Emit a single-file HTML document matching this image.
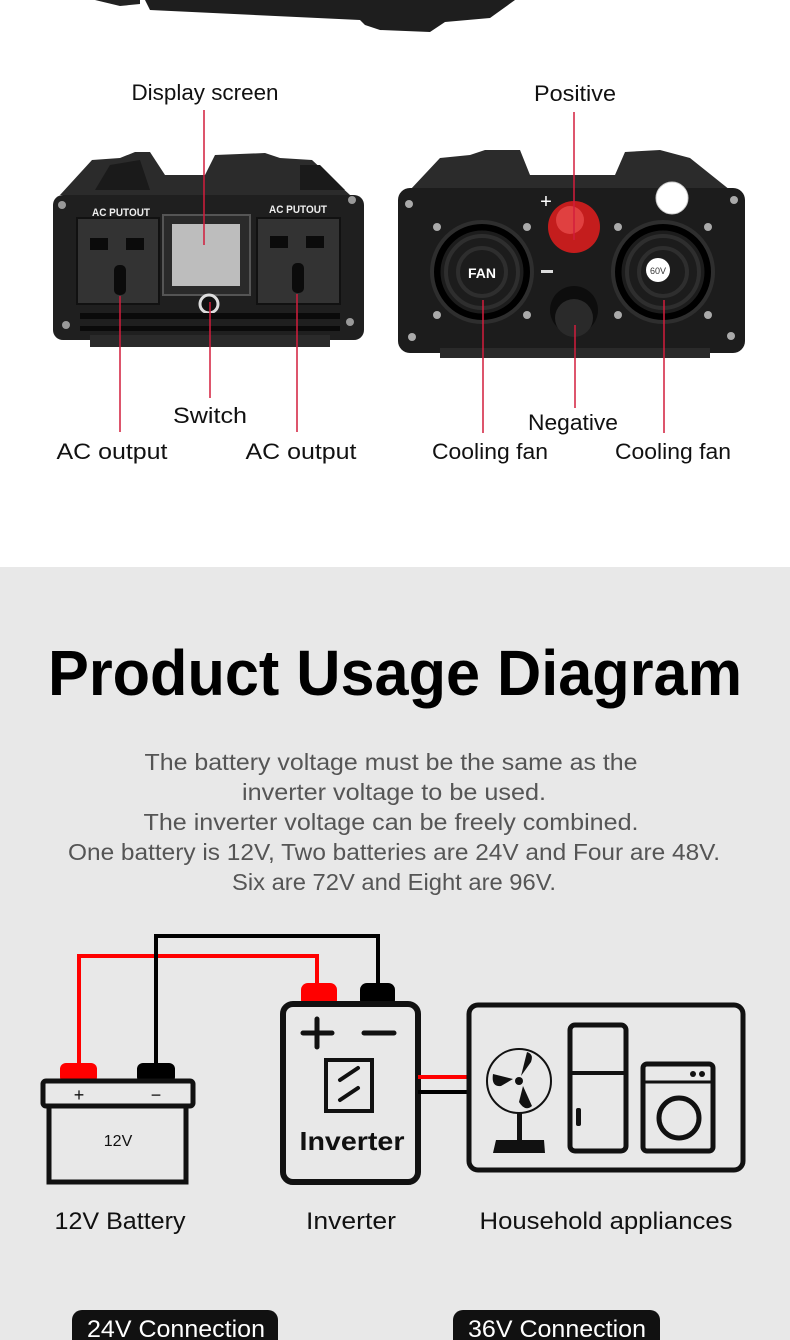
<!DOCTYPE html>
<html><head><meta charset="utf-8"><style>
html,body{margin:0;padding:0;background:#fff}
svg{display:block}
text{font-family:"Liberation Sans",sans-serif}
</style></head><body>
<svg width="790" height="1340" viewBox="0 0 790 1340" xmlns="http://www.w3.org/2000/svg">
<rect x="0" y="0" width="790" height="567" fill="#fff"/>
<rect x="0" y="567" width="790" height="773" fill="#e8e8e8"/>

<!-- top remnant of previous device -->
<path d="M95 0 L140 0 L140 4 L120 6 Z" fill="#222"/>
<path d="M145 0 L515 0 L490 18 L445 22 L430 32 L380 30 L365 25 L360 20 L150 10 Z" fill="#1e1e1e"/>

<!-- FRONT DEVICE -->
<g>
<path d="M92 160 L120 158 L135 152 L150 152 L165 175 L205 175 L215 155 L265 153 L280 158 L312 160 L350 195 L60 195 Z" fill="#2b2b2b"/>
<path d="M110 165 L140 160 L150 190 L95 190 Z" fill="#1a1a1a"/>
<path d="M300 165 L320 165 L345 190 L300 190 Z" fill="#1a1a1a"/>
<rect x="53" y="195" width="311" height="145" rx="10" fill="#1f1f1f"/>
<rect x="90" y="335" width="240" height="12" fill="#2a2a2a"/>
<text x="92" y="216" font-size="11" font-weight="bold" fill="#eee" textLength="58" lengthAdjust="spacingAndGlyphs">AC PUTOUT</text>
<text x="269" y="213" font-size="11" font-weight="bold" fill="#eee" textLength="58" lengthAdjust="spacingAndGlyphs">AC PUTOUT</text>
<rect x="77" y="218" width="82" height="86" fill="#333" stroke="#111" stroke-width="2"/>
<rect x="257" y="218" width="83" height="86" fill="#333" stroke="#111" stroke-width="2"/>
<rect x="90" y="238" width="18" height="12" fill="#0b0b0b"/><rect x="126" y="238" width="18" height="12" fill="#0b0b0b"/>
<rect x="270" y="236" width="18" height="12" fill="#0b0b0b"/><rect x="306" y="236" width="18" height="12" fill="#0b0b0b"/>
<rect x="114" y="265" width="12" height="30" rx="5" fill="#0b0b0b"/><rect x="292" y="263" width="12" height="30" rx="5" fill="#0b0b0b"/>
<rect x="163" y="215" width="87" height="80" fill="#2a2a2a" stroke="#555" stroke-width="2"/>
<rect x="172" y="224" width="68" height="62" fill="#bdbdbd"/>
<circle cx="209" cy="304" r="9" fill="#111" stroke="#ddd" stroke-width="3"/>
<circle cx="62" cy="205" r="4" fill="#999"/><circle cx="352" cy="200" r="4" fill="#999"/>
<circle cx="66" cy="325" r="4" fill="#999"/><circle cx="350" cy="322" r="4" fill="#999"/>
<rect x="80" y="313" width="260" height="6" fill="#0a0a0a"/>
<rect x="80" y="326" width="260" height="5" fill="#0a0a0a"/>
</g>

<!-- REAR DEVICE -->
<g>
<path d="M440 158 L470 155 L485 150 L520 150 L530 175 L615 175 L625 152 L660 150 L690 158 L730 190 L410 190 Z" fill="#2b2b2b"/>
<rect x="398" y="188" width="347" height="165" rx="12" fill="#1c1c1c"/>
<rect x="440" y="348" width="270" height="10" fill="#2a2a2a"/>
<g fill="none" stroke="#000" stroke-width="9">
<circle cx="482" cy="272" r="46"/><circle cx="663" cy="272" r="46"/>
</g>
<g fill="none" stroke="#2e2e2e" stroke-width="4">
<circle cx="482" cy="272" r="50"/><circle cx="482" cy="272" r="36"/><circle cx="482" cy="272" r="24"/>
<circle cx="663" cy="272" r="50"/><circle cx="663" cy="272" r="36"/><circle cx="663" cy="272" r="24"/>
</g>
<circle cx="482" cy="272" r="18" fill="#1c1c1c"/>
<text x="482" y="278" font-size="14" font-weight="bold" fill="#fff" text-anchor="middle">FAN</text>
<circle cx="658" cy="270" r="12" fill="#fff"/>
<text x="658" y="274" font-size="9" fill="#333" text-anchor="middle">60V</text>
<circle cx="672" cy="198" r="16" fill="#fff" stroke="#ccc"/>
<text x="546" y="208" font-size="20" fill="#fff" text-anchor="middle">+</text>
<rect x="541" y="270" width="12" height="3" fill="#ddd"/>
<circle cx="574" cy="227" r="26" fill="#c41d1d"/><circle cx="570" cy="220" r="14" fill="#e04040"/>
<circle cx="574" cy="310" r="24" fill="#0d0d0d"/><circle cx="574" cy="318" r="19" fill="#2a2a2a"/>
<g fill="#aaa"><circle cx="437" cy="227" r="4"/><circle cx="527" cy="227" r="4"/><circle cx="437" cy="315" r="4"/><circle cx="527" cy="315" r="4"/>
<circle cx="618" cy="227" r="4"/><circle cx="708" cy="227" r="4"/><circle cx="618" cy="315" r="4"/><circle cx="708" cy="315" r="4"/>
<circle cx="409" cy="204" r="4"/><circle cx="734" cy="200" r="4"/><circle cx="412" cy="337" r="4"/><circle cx="731" cy="336" r="4"/></g>
</g>

<!-- leader lines -->
<g stroke="#d21d3c" stroke-width="1.5">
<line x1="204" y1="110" x2="204" y2="245"/>
<line x1="574" y1="112" x2="574" y2="240"/>
<line x1="210" y1="302" x2="210" y2="398"/>
<line x1="120" y1="296" x2="120" y2="432"/>
<line x1="297" y1="294" x2="297" y2="432"/>
<line x1="575" y1="325" x2="575" y2="408"/>
<line x1="483" y1="300" x2="483" y2="433"/>
<line x1="664" y1="300" x2="664" y2="433"/>
</g>
<g font-size="22" fill="#111" text-anchor="middle">
<text x="205" y="100" textLength="147" lengthAdjust="spacingAndGlyphs">Display screen</text>
<text x="575" y="101" textLength="82" lengthAdjust="spacingAndGlyphs">Positive</text>
<text x="210" y="423" textLength="74" lengthAdjust="spacingAndGlyphs">Switch</text>
<text x="112" y="459" textLength="111" lengthAdjust="spacingAndGlyphs">AC output</text>
<text x="301" y="459" textLength="111" lengthAdjust="spacingAndGlyphs">AC output</text>
<text x="573" y="430" textLength="90" lengthAdjust="spacingAndGlyphs">Negative</text>
<text x="490" y="459" textLength="116" lengthAdjust="spacingAndGlyphs">Cooling fan</text>
<text x="673" y="459" textLength="116" lengthAdjust="spacingAndGlyphs">Cooling fan</text>
</g>

<!-- Title -->
<text x="395" y="695" font-size="64" font-weight="bold" fill="#000" text-anchor="middle" textLength="694" lengthAdjust="spacingAndGlyphs">Product Usage Diagram</text>
<g font-size="23" fill="#555" text-anchor="middle">
<text x="391" y="770" textLength="493" lengthAdjust="spacingAndGlyphs">The battery voltage must be the same as the</text>
<text x="394" y="800" textLength="304" lengthAdjust="spacingAndGlyphs">inverter voltage to be used.</text>
<text x="391" y="830" textLength="495" lengthAdjust="spacingAndGlyphs">The inverter voltage can be freely combined.</text>
<text x="394" y="860" textLength="652" lengthAdjust="spacingAndGlyphs">One battery is 12V, Two batteries are 24V and Four are 48V.</text>
<text x="394" y="890" textLength="324" lengthAdjust="spacingAndGlyphs">Six are 72V and Eight are 96V.</text>
</g>

<!-- wires -->
<polyline points="79,1065 79,956 317,956 317,986" fill="none" stroke="#f00" stroke-width="4"/>
<polyline points="156,1065 156,936 378,936 378,986" fill="none" stroke="#000" stroke-width="4"/>

<!-- battery -->
<rect x="60" y="1063" width="37" height="20" rx="6" fill="#f00"/>
<rect x="137" y="1063" width="38" height="20" rx="6" fill="#000"/>
<rect x="43" y="1081" width="150" height="25" rx="3" fill="#e8e8e8" stroke="#111" stroke-width="5"/>
<rect x="49" y="1106" width="137" height="76" fill="#e8e8e8" stroke="#111" stroke-width="5"/>
<text x="79" y="1101" font-size="18" fill="#111" text-anchor="middle">+</text>
<text x="156" y="1101" font-size="18" fill="#111" text-anchor="middle">−</text>
<text x="118" y="1146" font-size="16" fill="#111" text-anchor="middle">12V</text>

<!-- inverter -->
<rect x="301" y="983" width="36" height="24" rx="7" fill="#f00"/>
<rect x="360" y="983" width="35" height="24" rx="7" fill="#000"/>
<rect x="283" y="1004" width="135" height="178" rx="10" fill="#e8e8e8" stroke="#111" stroke-width="6"/>
<path d="M303 1033 H332 M317 1019 V1047 M364 1033 H394" stroke="#111" stroke-width="5" stroke-linecap="round"/>
<rect x="326" y="1060" width="46" height="51" fill="#e8e8e8" stroke="#111" stroke-width="4"/>
<path d="M340 1080 L358 1068 M340 1100 L358 1088" stroke="#111" stroke-width="4" stroke-linecap="round"/>
<text x="352" y="1150" font-size="26" font-weight="bold" fill="#111" text-anchor="middle" textLength="105" lengthAdjust="spacingAndGlyphs">Inverter</text>
<line x1="418" y1="1077" x2="468" y2="1077" stroke="#f00" stroke-width="4"/>
<line x1="418" y1="1092" x2="468" y2="1092" stroke="#000" stroke-width="4"/>

<!-- appliances -->
<rect x="469" y="1005" width="274" height="165" rx="9" fill="#e8e8e8" stroke="#111" stroke-width="5"/>
<ellipse cx="519" cy="1081" rx="32" ry="32" fill="none" stroke="#111" stroke-width="2"/>
<circle cx="519" cy="1081" r="4" fill="#111"/>
<path d="M521 1076 L527 1052 Q534 1054 531 1062 Z M513 1079 L493 1074 Q491 1087 501 1086 Z M523 1086 L532 1106 Q525 1112 519 1102 Z" fill="#111"/>
<rect x="517" y="1112" width="5" height="30" fill="#111"/>
<path d="M496 1140 L544 1140 L545 1153 L493 1153 Z" fill="#111"/>
<rect x="570" y="1025" width="56" height="126" rx="5" fill="none" stroke="#111" stroke-width="5"/>
<line x1="570" y1="1073" x2="626" y2="1073" stroke="#111" stroke-width="4"/>
<rect x="576" y="1108" width="5" height="18" rx="2" fill="#111"/>
<rect x="643" y="1064" width="70" height="87" rx="4" fill="none" stroke="#111" stroke-width="5"/>
<line x1="643" y1="1082" x2="713" y2="1082" stroke="#111" stroke-width="3"/>
<circle cx="693" cy="1074" r="3" fill="#111"/><circle cx="702" cy="1074" r="3" fill="#111"/>
<circle cx="679" cy="1118" r="20" fill="none" stroke="#111" stroke-width="5"/>

<g font-size="24" fill="#111" text-anchor="middle">
<text x="120" y="1229" textLength="131" lengthAdjust="spacingAndGlyphs">12V Battery</text>
<text x="351" y="1229" textLength="90" lengthAdjust="spacingAndGlyphs">Inverter</text>
<text x="606" y="1229" textLength="253" lengthAdjust="spacingAndGlyphs">Household appliances</text>
</g>

<rect x="72" y="1310" width="206" height="50" rx="10" fill="#111"/>
<rect x="453" y="1310" width="207" height="50" rx="10" fill="#111"/>
<text x="176" y="1337" font-size="24" fill="#fff" text-anchor="middle" textLength="178" lengthAdjust="spacingAndGlyphs">24V Connection</text>
<text x="557" y="1337" font-size="24" fill="#fff" text-anchor="middle" textLength="178" lengthAdjust="spacingAndGlyphs">36V Connection</text>
</svg>
</body></html>
